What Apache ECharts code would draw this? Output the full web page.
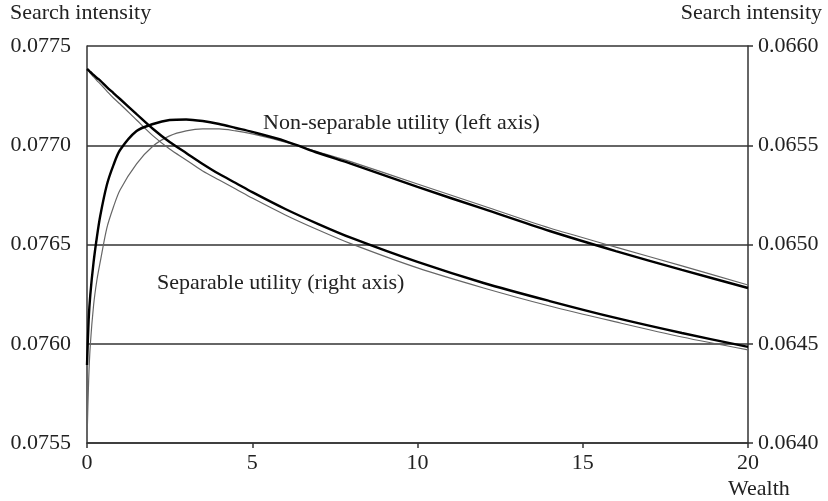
<!DOCTYPE html>
<html><head><meta charset="utf-8">
<script src="https://cdn.jsdelivr.net/npm/echarts@6/dist/echarts.min.js"></script>
<style>html,body{margin:0;padding:0;background:#fff}#c{width:828px;height:501px}</style>
</head><body><div id="c"></div>
<script>
var wealth = [0,0.05,0.1,0.2,0.3,0.4,0.6,0.8,1,1.5,2,2.5,3,3.5,4,4.5,5,6,7,8,10,12,14,16,18,20];
var nonSepThick = [0.075893,0.076120,0.076246,0.076412,0.076538,0.076644,0.076800,0.076900,0.076976,0.077072,0.077107,0.077127,0.077130,0.077122,0.077107,0.077087,0.077067,0.077021,0.076961,0.076906,0.076790,0.076679,0.076568,0.076467,0.076372,0.076281];
var nonSepThin = [0.075510,0.075817,0.075994,0.076195,0.076321,0.076412,0.076583,0.076689,0.076775,0.076906,0.076996,0.077047,0.077072,0.077082,0.077082,0.077072,0.077057,0.077016,0.076966,0.076916,0.076805,0.076694,0.076583,0.076487,0.076392,0.076296];
var sepThick = [0.065884,0.065877,0.065869,0.065854,0.065839,0.065826,0.065793,0.065763,0.065733,0.065657,0.065582,0.065516,0.065461,0.065406,0.065355,0.065310,0.065264,0.065179,0.065103,0.065033,0.064912,0.064806,0.064715,0.064630,0.064554,0.064484];
var sepThin = [0.065884,0.065874,0.065864,0.065844,0.065826,0.065809,0.065773,0.065738,0.065708,0.065627,0.065547,0.065481,0.065426,0.065370,0.065325,0.065280,0.065234,0.065149,0.065073,0.065003,0.064882,0.064781,0.064690,0.064610,0.064534,0.064469];
var xTicks = [0,5,10,15,20];
var leftTicks = [0.0755,0.0760,0.0765,0.0770,0.0775];
var rightTicks = [0.0640,0.0645,0.0650,0.0655,0.0660];
var texts = {yTitle:'Search intensity', xTitle:'Wealth', nonSep:'Non-separable utility (left axis)', sep:'Separable utility (right axis)'};

function pairs(xs, ys){ return xs.map(function(x,i){return [x, ys[i]];}); }
var FONT = 'Liberation Serif';
var FS = 22;
var txt = {color:'#222', fontFamily:FONT, fontSize:FS};
var gtxt = function(s){ return {text:s, fill:'#222', font:FS+'px "'+FONT+'"'}; };
var chart = echarts.init(document.getElementById('c'), null, {renderer:'canvas'});
chart.setOption({
  animation:false,
  backgroundColor:'#fff',
  grid:{left:87, right:80, top:46, bottom:58, show:false},
  xAxis:{type:'value', min:xTicks[0], max:xTicks[xTicks.length-1], interval:5,
    axisLine:{show:true, lineStyle:{color:'#333', width:1.5}},
    axisTick:{show:true, inside:false, length:5, lineStyle:{color:'#333', width:1.5}},
    axisLabel:Object.assign({margin:9}, txt),
    splitLine:{show:false}},
  yAxis:[
    {type:'value', position:'left', min:leftTicks[0], max:leftTicks[leftTicks.length-1], interval:0.0005,
     axisLine:{show:true, lineStyle:{color:'#333', width:1.5}}, axisTick:{show:false},
     axisLabel:Object.assign({margin:16, formatter:function(v){return v.toFixed(4);}}, txt),
     splitLine:{show:true, lineStyle:{color:'#333', width:1.5}}},
    {type:'value', position:'right', min:rightTicks[0], max:rightTicks[rightTicks.length-1], interval:0.0005,
     axisLine:{show:true, onZero:false, lineStyle:{color:'#333', width:1.5}},
     axisTick:{show:true, inside:false, length:5, lineStyle:{color:'#333', width:1.5}},
     axisLabel:Object.assign({margin:10, formatter:function(v){return v.toFixed(4);}}, txt),
     splitLine:{show:false}}
  ],
  series:[
    {type:'line', yAxisIndex:0, data:pairs(wealth, nonSepThin), showSymbol:false, smooth:0.3,
     lineStyle:{color:'#666', width:1.2}, z:3},
    {type:'line', yAxisIndex:0, data:pairs(wealth, nonSepThick), showSymbol:false, smooth:0.3,
     lineStyle:{color:'#000', width:2.4}, z:4},
    {type:'line', yAxisIndex:1, data:pairs(wealth, sepThin), showSymbol:false, smooth:0.3,
     lineStyle:{color:'#666', width:1.2}, z:3},
    {type:'line', yAxisIndex:1, data:pairs(wealth, sepThick), showSymbol:false, smooth:0.3,
     lineStyle:{color:'#000', width:2.4}, z:4}
  ],
  graphic:[
    {type:'text', left:10, top:2, style:gtxt(texts.yTitle)},
    {type:'text', right:6, top:2, style:gtxt(texts.yTitle)},
    {type:'text', left:728, top:478, style:gtxt(texts.xTitle)},
    {type:'text', left:263, top:112, style:gtxt(texts.nonSep)},
    {type:'text', left:157, top:272, style:gtxt(texts.sep)}
  ]
});
</script></body></html>
